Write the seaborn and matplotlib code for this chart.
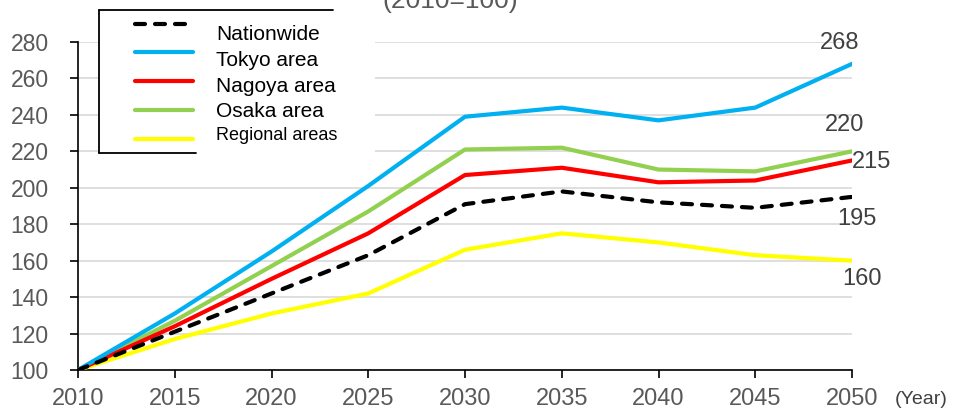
import matplotlib
matplotlib.use("Agg")
import matplotlib.pyplot as plt
from matplotlib.lines import Line2D
from matplotlib.patches import Rectangle
import pandas as pd
import seaborn as sns

years = [2010, 2015, 2020, 2025, 2030, 2035, 2040, 2045, 2050]
areas = ["Nationwide", "Tokyo area", "Nagoya area", "Osaka area", "Regional areas"]
nationwide = [100, 121, 142, 163, 191, 198, 192, 189, 195]
tokyo = [100, 131, 165, 201, 239, 244, 237, 244, 268]
nagoya = [100, 124, 150, 175, 207, 211, 203, 204, 215]
osaka = [100, 127, 157, 187, 221, 222, 210, 209, 220]
regional = [100, 117, 131, 142, 166, 175, 170, 163, 160]
end_labels = ["195", "268", "215", "220", "160"]
yticks = [100, 120, 140, 160, 180, 200, 220, 240, 260, 280]

colors = {"Nationwide": "#000000", "Tokyo area": "#00b0f0", "Nagoya area": "#ff0000",
          "Osaka area": "#92d050", "Regional areas": "#ffff00"}
dash_pattern = (2.4, 2.4)
lw = 3.0

series = [nationwide, tokyo, nagoya, osaka, regional]
df = pd.DataFrame({
    "year": years * len(areas),
    "value": [v for s in series for v in s],
    "area": [a for a in areas for _ in years],
})

sns.set_style("white")
plt.rcParams["font.family"] = ["Liberation Sans", "DejaVu Sans"]

fig = plt.figure(figsize=(9.55, 4.09), dpi=100)
ax = fig.add_axes([78 / 955, 39 / 409, (852 - 78) / 955, (370 - 42) / 409])

order = ["Regional areas", "Osaka area", "Nagoya area", "Tokyo area", "Nationwide"]
for name in order:
    sub = df[df["area"] == name]
    sns.lineplot(data=sub, x="year", y="value", ax=ax, color=colors[name],
                 linewidth=lw, legend=False, zorder=3)
    if name == "Nationwide":
        ax.lines[-1].set_dashes(dash_pattern)
        ax.lines[-1].set_dash_capstyle("round")

ax.set_xlim(2010, 2050)
ax.set_ylim(100, 280)
ax.set_xticks(years)
ax.set_yticks(yticks)
ax.set_xlabel("")
ax.set_ylabel("")
ax.grid(axis="y", color="#d9d9d9", linewidth=1.2, zorder=0)
for s in ["top", "right"]:
    ax.spines[s].set_visible(False)
for s in ["left", "bottom"]:
    ax.spines[s].set_color("black")
    ax.spines[s].set_linewidth(1.2)
ax.tick_params(axis="both", direction="out", length=6, width=1.2, color="black",
               labelcolor="#595959", left=True, bottom=True)
ax.tick_params(axis="x", pad=7, labelsize=17)
ax.tick_params(axis="y", pad=15, labelsize=16.5)

# value labels at the 2050 end of each line
offsets = {"Nationwide": (5, -22), "Tokyo area": (-12, 21), "Nagoya area": (20, -2),
           "Osaka area": (-7, 26), "Regional areas": (10, -18)}
for name, s, lab in zip(areas, series, end_labels):
    ax.annotate(lab, xy=(years[-1], s[-1]), xytext=offsets[name],
                textcoords="offset pixels", ha="center", va="center",
                fontsize=17, color="#404040", annotation_clip=False, zorder=5)

fig.text(895 / 955, 1 - 399 / 409, "(Year)", fontsize=14, color="#404040",
         ha="left", va="center")
fig.text(450 / 955, 1 - 8 / 409, "(2010=100)", fontsize=19, color="#595959",
         ha="center", va="baseline")

# legend panel: white backing with a partial frame
fig.patches.append(Rectangle((99 / 955, 1 - 153 / 409), (375 - 99) / 955, (153 - 10) / 409,
                             transform=fig.transFigure, facecolor="white",
                             edgecolor="none", zorder=4))
for xs, ys in [((99, 333), (10, 10)), ((99, 99), (10, 153)), ((99, 196), (153, 153))]:
    fig.lines.append(Line2D([x / 955 for x in xs], [1 - y / 409 for y in ys],
                            transform=fig.transFigure, color="black", linewidth=1.3, zorder=5))

handle_rows = [24, 52, 81, 110, 139]
text_rows = [35, 61, 86, 112, 136]
text_sizes = [15, 15, 15, 15, 13]
for name, hy, ty, fs in zip(areas, handle_rows, text_rows, text_sizes):
    h = Line2D([135 / 955, 193 / 955], [1 - hy / 409, 1 - hy / 409],
               transform=fig.transFigure, color=colors[name], linewidth=lw,
               solid_capstyle="round", zorder=6)
    if name == "Nationwide":
        h.set_dashes(dash_pattern)
        h.set_dash_capstyle("round")
    fig.lines.append(h)
    fig.text(216 / 955, 1 - ty / 409, name, fontsize=fs, color="black",
             ha="left", va="center", zorder=6)

fig.savefig("out.png", dpi=100)
